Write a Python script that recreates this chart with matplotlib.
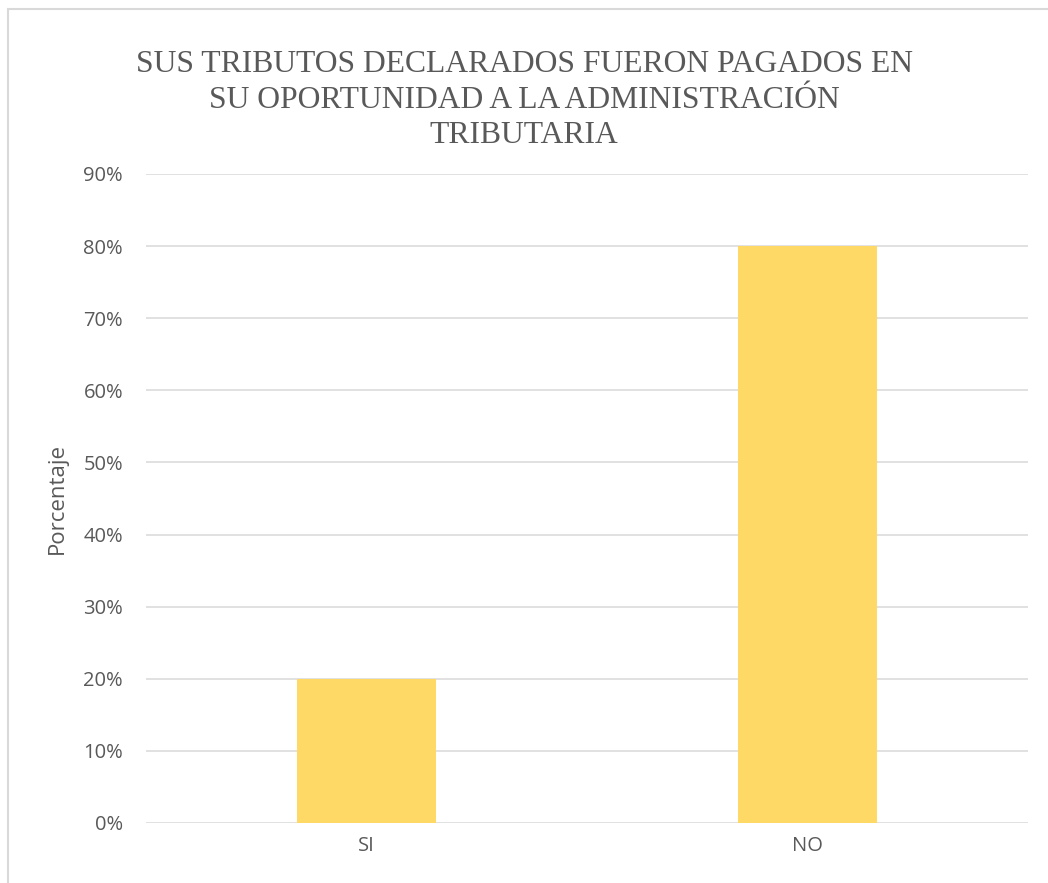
import matplotlib.pyplot as plt
from matplotlib.ticker import PercentFormatter

categories = ['SI', 'NO']
percentages = [0.20, 0.80]
y_ticks = [0.0, 0.1, 0.2, 0.3, 0.4, 0.5, 0.6, 0.7, 0.8, 0.9]

title = 'SUS TRIBUTOS DECLARADOS FUERON PAGADOS EN\nSU OPORTUNIDAD A LA ADMINISTRACIÓN\nTRIBUTARIA'

text_color = '#595959'
grid_color = '#D9D9D9'
bar_color = '#FFD966'

plt.rcParams['font.family'] = ['Open Sans', 'DejaVu Sans']

fig = plt.figure(figsize=(10.48, 8.83), dpi=100)
ax = fig.add_axes([146 / 1048, 60 / 883, 882 / 1048, 649 / 883])

x = range(len(categories))
ax.bar(x, percentages, width=0.315, color=bar_color, zorder=3)

ax.set_xlim(-0.5, len(categories) - 0.5)
ax.set_ylim(0, 0.9)
ax.set_yticks(y_ticks)
ax.yaxis.set_major_formatter(PercentFormatter(1.0, decimals=0))
ax.set_xticks(list(x))
ax.set_xticklabels(categories)

ax.grid(axis='y', color=grid_color, linewidth=1.1, zorder=0)
ax.set_axisbelow(True)
for s in ax.spines.values():
    s.set_visible(False)
ax.tick_params(axis='both', length=0, labelsize=14.5, colors=text_color)
ax.tick_params(axis='y', pad=16.5)
ax.tick_params(axis='x', pad=9.5)

ax.set_ylabel('Porcentaje', fontsize=16, color=text_color)
ax.yaxis.set_label_coords(-0.0885, 0.5)

fig.text(524, 883 - 50, title, transform=None, ha='center', va='top',
         family='Liberation Serif', fontsize=22.8, color=text_color,
         linespacing=1.3)

# chart area frame (top and left edges visible)
rect = plt.Rectangle((8 / 1048, -0.1), 1.2, (883 - 9) / 883 + 0.1, fill=False,
                     edgecolor=grid_color, linewidth=1.5, transform=fig.transFigure,
                     figure=fig)
fig.patches.append(rect)

fig.savefig('out.png', dpi=100, facecolor='white')
